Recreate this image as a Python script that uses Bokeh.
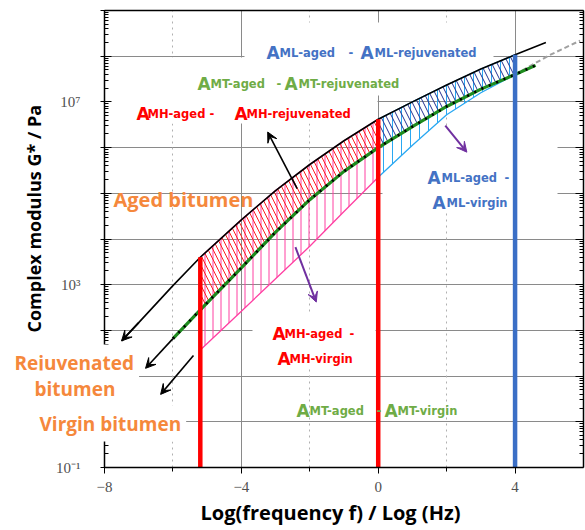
import math
from bokeh.plotting import figure
from bokeh.models import (FixedTicker, LogAxis, LinearAxis, Grid, Label, Arrow, VeeHead, Title,
                          BoxAnnotation)
from bokeh.embed import file_html
from bokeh.resources import INLINE
from bokeh.core.properties import value

# ---------------- data: log10(|G*| / Pa) against log10(f / Hz) ----------------
aged_x = [-7.5, -7, -6, -5.2, -4, -3, -2, -1, 0, 1, 2, 3, 4, 4.9]
aged_logG = [1.77, 2.17, 2.98, 3.60, 4.42, 5.06, 5.63, 6.15, 6.62, 7.00, 7.37, 7.72, 8.03, 8.30]

rejuv_x = [-6.8, -6, -5.2, -4, -3, -2, -1, 0, 1, 2, 3, 4, 4.6]
rejuv_logG = [1.17, 1.82, 2.45, 3.37, 4.15, 4.86, 5.48, 6.00, 6.46, 6.90, 7.28, 7.60, 7.80]

virgin_x = [-5.2, -4, -3, -2, -1, 0, 1, 2, 3, 4, 5, 5.9]
virgin_logG = [1.57, 2.42, 3.13, 3.84, 4.60, 5.35, 6.05, 6.72, 7.20, 7.60, 8.02, 8.34]

virgin_arrow_x = [-5.4, -6.36]
virgin_arrow_logG = [1.45, 0.60]

# frequency boundaries of the MH / MT / ML areas
boundaries = [-5.2, 0, 4]
boundary_colors = ["#FF0000", "#FF0000", "#3B6FC6"]

# pointer arrows: x0, logG0, x1, logG1, colour
pointer_arrows = [
    (-2.37, 5.10, -3.23, 6.34, "black"),
    (-2.42, 3.82, -1.81, 2.62, "#7030A0"),
    (1.96, 6.48, 2.59, 5.90, "#7030A0"),
]

x_ticks = [-8, -4, 0, 4]
x_tick_labels = ["\u22128", "\u22124", "0", "4"]
x_minor_ticks = [-6, -2, 2]
y_exponents = list(range(-1, 10))
y_tick_labels = {-1: "10\u207b\u00b9", 3: "10\u00b3", 7: "10\u2077"}

# ---------------- layout helpers (canvas pixels -> data) ----------------
W, H = 585, 530
FX_L, FX_R, FY_T, FY_B = 104, 583, 10, 467   # frame edges
X0, X1, LY0, LY1 = -8, 6, -1, 9
PPX = (FX_R - FX_L) / (X1 - X0)
PPY = (FY_B - FY_T) / (LY1 - LY0)


def px_x(px):
    return X0 + (px - FX_L) / PPX


def py_y(py):
    return 10 ** (LY1 - (py - FY_T) / PPY)


def G(v):
    return [10 ** a for a in v]


def span(xs, ys, lo, hi):
    pts = [(a, b) for a, b in zip(xs, ys) if lo - 1e-9 <= a <= hi + 1e-9]
    return [a for a, _ in pts], [10 ** b for _, b in pts]


p = figure(width=W, height=H, y_axis_type="log", x_range=(X0, X1),
           y_range=(10 ** LY0, 10 ** LY1), output_backend="svg",
           toolbar_location=None, min_border_left=FX_L, min_border_top=FY_T,
           min_border_right=W - FX_R, min_border_bottom=H - FY_B)
p.outline_line_color = None
p.background_fill_color = "white"

# ---------------- grids ----------------
decades = [10 ** k for k in y_exponents]
p.ygrid.ticker = FixedTicker(ticks=decades)
p.ygrid.grid_line_color = "#8a8a8a"
p.ygrid.grid_line_width = 1
p.xgrid.ticker = FixedTicker(ticks=[-4, 0, 4])
p.xgrid.grid_line_color = "#8a8a8a"
p.add_layout(Grid(dimension=0, ticker=FixedTicker(ticks=x_minor_ticks),
                  grid_line_color="#b0b0b0", grid_line_dash="dotted"))

# white text-box backgrounds hiding the grid behind the annotation blocks (page px)
text_boxes = [(104, 377, 57, 123), (244, 493, 22, 58), (340, 493, 58, 95),
              (382, 557, 126, 212), (252, 375, 312, 368)]
for l, r, t, b in text_boxes:
    p.add_layout(BoxAnnotation(left=px_x(l), right=px_x(r), top=py_y(t), bottom=py_y(b),
                               fill_color="white", fill_alpha=1, line_color=None,
                               level="underlay"))

# ---------------- axes ----------------
minor_y = [m * 10 ** k for k in y_exponents[:-1] for m in range(2, 10)]
overrides = {10 ** k: y_tick_labels.get(k, "") for k in y_exponents}

ya = p.yaxis[0]
ya.ticker = FixedTicker(ticks=decades, minor_ticks=minor_y)
ya.major_label_overrides = overrides
xa = p.xaxis[0]
xa.ticker = FixedTicker(ticks=x_ticks, minor_ticks=x_minor_ticks)
xa.major_label_overrides = dict(zip(x_ticks, x_tick_labels))

for ax in (xa, ya):
    ax.axis_line_width = 1.5
    ax.axis_line_color = "black"
    ax.major_label_text_font = "Liberation Serif"
    ax.major_label_text_font_size = "15px"
    ax.major_label_text_color = "#505050"
ya.major_tick_in, ya.major_tick_out = 7, 4
ya.minor_tick_in, ya.minor_tick_out = 4, 0
ya.major_label_standoff = 20
xa.major_tick_in, xa.major_tick_out = 0, 6
xa.minor_tick_in, xa.minor_tick_out = 0, 4
xa.major_label_standoff = 8

ra = LogAxis(ticker=FixedTicker(ticks=decades, minor_ticks=minor_y),
             major_label_overrides={10 ** k: "" for k in y_exponents},
             major_label_text_font_size="0px", major_label_standoff=0,
             major_tick_in=8, major_tick_out=0, minor_tick_in=4, minor_tick_out=0,
             axis_line_width=1.5)
p.add_layout(ra, "right")
ta = LinearAxis(ticker=FixedTicker(ticks=[]), major_label_text_font_size="0px",
                major_label_standoff=0, major_tick_out=0, minor_tick_out=0,
                axis_line_width=1.5)
p.add_layout(ta, "above")

# axis titles
p.add_layout(Title(text="Complex modulus G* / Pa", align="left", offset=135, standoff=16,
                   text_font="Open Sans", text_font_style="bold", text_font_size="18px",
                   text_color="black"), "left")
p.add_layout(Title(text="Log(frequency f) / Log (Hz)", align="left", offset=96, standoff=4,
                   text_font="Open Sans", text_font_style="bold", text_font_size="20px",
                   text_color="black"), "below")

# ---------------- hatched areas ----------------
for lo, hi, vcol, dcol, vs, ds in [(boundaries[0], boundaries[1], "#FF3FA2", "#FF2020", 8, 10),
                                   (boundaries[1], boundaries[2], "#2AA8F2", "#24308F", 9, 11)]:
    xs, ya_ = span(aged_x, aged_logG, lo, hi)
    _, yr_ = span(rejuv_x, rejuv_logG, lo, hi)
    _, yv_ = span(virgin_x, virgin_logG, lo, hi)
    p.varea(x=xs, y1=yv_, y2=ya_, fill_color=None, fill_alpha=0,
            hatch_pattern="|", hatch_color=vcol, hatch_scale=vs, hatch_weight=1.0)
    p.varea(x=xs, y1=yr_, y2=ya_, fill_color=None, fill_alpha=0,
            hatch_pattern="\\", hatch_color=dcol, hatch_scale=ds, hatch_weight=1.0)
    p.line(xs, yv_, line_color=vcol, line_width=1.3)
    p.line(xs, ya_, line_color=vcol, line_width=1.3)

# virgin continuation (grey dashed)
vx, vy = span(virgin_x, virgin_logG, boundaries[2], 10)
p.line(vx, vy, line_color="#a0a0a0", line_width=2, line_dash="5 3")

# aged curve
p.line(aged_x, G(aged_logG), line_color="black", line_width=1.6)
# rejuvenated curve (green with black dashes)
p.line(rejuv_x[1:], G(rejuv_logG[1:]), line_color="#1E8C1E", line_width=3.2)
p.line(rejuv_x[1:], G(rejuv_logG[1:]), line_color="black", line_width=2.6, line_dash="2 6")

# boundary bars
aged_at = dict(zip(aged_x, aged_logG))
p.segment(x0=boundaries, y0=[10 ** LY0] * 3, x1=boundaries,
          y1=[10 ** aged_at[b] for b in boundaries], line_color=boundary_colors, line_width=4.5)

# ---------------- arrows ----------------
def add_arrow(x0, l0, x1, l1, col, w=1.6):
    p.add_layout(Arrow(end=VeeHead(size=10, fill_color=col, line_color=col, line_width=1),
                       x_start=x0, y_start=10 ** l0, x_end=x1, y_end=10 ** l1,
                       line_color=col, line_width=w))

add_arrow(aged_x[1], aged_logG[1], aged_x[0], aged_logG[0], "black")
add_arrow(rejuv_x[1], rejuv_logG[1], rejuv_x[0], rejuv_logG[0], "black")
add_arrow(virgin_arrow_x[0], virgin_arrow_logG[0], virgin_arrow_x[1], virgin_arrow_logG[1], "black")
for a in pointer_arrows:
    add_arrow(*a, w=2 if a[4] != "black" else 1.6)

# ---------------- text ----------------
BLUE, GREEN, RED, ORANGE = "#4472C4", "#6FAC46", "#FF0000", "#F5883C"
area_labels = [
    (BLUE, 52, [("A", 262, 1), ("ML-aged", 275, 0), ("-", 344, 0), ("A", 356, 1), ("ML-rejuvenated", 370, 0)]),
    (GREEN, 83, [("A", 193, 1), ("MT-aged", 206, 0), ("-", 272, 0), ("A", 280, 1), ("MT-rejuvenated", 294, 0)]),
    (RED, 113, [("A", 132, 1), ("MH-aged", 143, 0), ("-", 205, 0), ("A", 230, 1), ("MH-rejuvenated", 242, 0)]),
    (BLUE, 177, [("A", 423, 1), ("ML-aged", 437, 0), ("-", 500, 0)]),
    (BLUE, 202, [("A", 428, 1), ("ML-virgin", 442, 0)]),
    (RED, 333, [("A", 268, 1), ("MH-aged", 280, 0), ("-", 345, 0)]),
    (RED, 358, [("A", 273, 1), ("MH-virgin", 285, 0)]),
    (GREEN, 410, [("A", 292, 1), ("MT-aged", 305, 0), ("-", 372, 0), ("A", 380, 1), ("MT-virgin", 393, 0)]),
]


def seg_label(col, base, txt, left, big, bg):
    return Label(x=px_x(left), y=py_y(base), text=txt, text_color=col,
                 text_alpha=0 if bg else 1,
                 text_font="DejaVu Sans", text_font_style="bold",
                 text_font_size="17px" if big else "11.5px",
                 text_align="left", text_baseline="alphabetic",
                 background_fill_color="white" if bg else None, padding=4)


for bg in (True, False):
    for col, base, segs in area_labels:
        for txt, left, big in segs:
            p.add_layout(seg_label(col, base, txt, left, big, bg))

p.add_layout(Label(x=px_x(113), y=py_y(199), text="Aged bitumen", text_color=ORANGE,
                   text_font="Open Sans", text_font_style="bold", text_font_size="20px",
                   text_align="left", text_baseline="alphabetic"))

# labels reaching outside the frame: text glyph drawn at overlay level
side_text = ["Rejuvenated", "bitumen", "Virgin bitumen"]
side_left = [9, 29, 34]
side_base = [362, 388, 423]
p.text(x=[px_x(v) for v in side_left], y=[py_y(v) for v in side_base], text=side_text,
       text_color=ORANGE, text_font=value("Open Sans"), text_font_style="bold",
       text_font_size="19px", text_align="left", text_baseline="alphabetic",
       background_fill_color="white", padding=5, level="overlay")

open("out.html", "w").write(file_html(p, INLINE))
